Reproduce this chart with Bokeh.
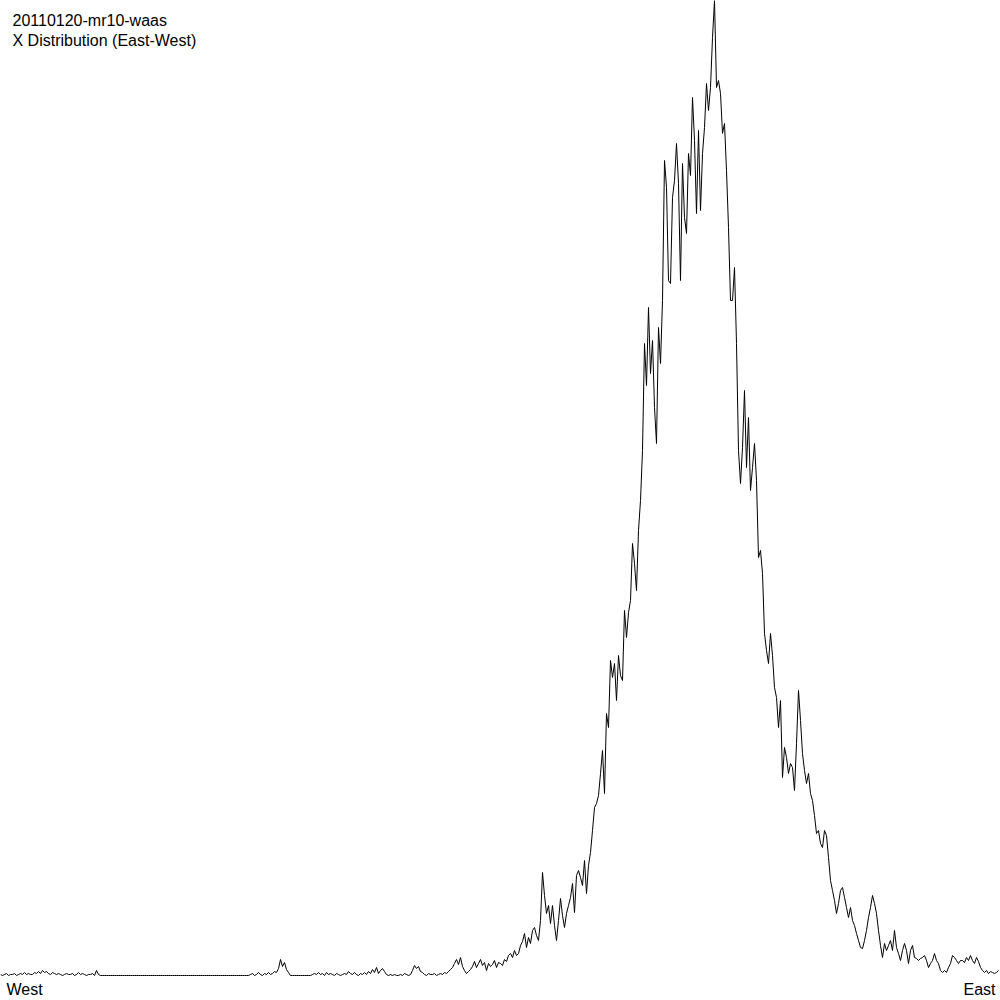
import numpy as np
from bokeh.plotting import figure
from bokeh.models import Range1d, Label, ColumnDataSource
from bokeh.embed import file_html
from bokeh.resources import INLINE

# Histogram of X positions (counts per bin), West -> East
counts = (
    [1,0,1,2,0,1,1,2,0,1, 2,1,3,1,2,1,1,3,2,4, 2,5,3,4,2,1,3,2,1,2,
     1,0,1,2,1,1,2,0,1,3, 1,2,1,0,1,1,2,0,5,1]
    + [0] * 75
    + [1,2,0,1,3,1,0,2,1,3, 1,2,4,3,7,16,9,13,6,3]
    + [0] * 11
    + [1,2,1,3,1,2,0,3,1,2]
    + [1,0,2,1,0,1,2,1,4,2]
    + [1,3,1,0,2,1,3,1,4,2]
    + [6,3,8,2,5,7,4,1,0,1]
    + [0,1,0,0,1,0,2,1,0,1]
    + [5,10,7,9,4,3,1,0,2,1]
    + [1,2,0,1,2,1,3,2,4,6]
    + [8,12,16,11,18,9,5,2,4,6]
    + [9,14,8,12,16,10,13,5,12,9]
    + [11,15,8,13,12,10,16,14,20,22]
    + [18,25,20,22,30,34,42,28,38,32]
    + [45,48,40,35,55,103,80,62,70,52]
    + [70,50,35,55,77,60,48,62,70,78]
    + [92,63,100,105,98,90,115,82,110,123]
    + [145,168,172,180,202,225,182,262,248,315]
    + [298,312,275,320,300,295,365,338,363,375]
    + [432,412,385,445,475,525,632,590,668,602]
    + [635,568,532,648,612,675,815,788,695,692]
    + [778,795,832,792,695,812,758,742,822,800]
    + [878,835,762,845,765,822,848,892,865,888]
    + [938,975,888,895,882,842,852,805,748,675]
    + [675,708,632,525,492,528,585,508,558,485]
    + [508,532,495,418,425,402,342,325,312,342]
    + [320,288,278,248,275,198,228,218,202,212]
    + [208,185,232,285,255,222,205,192,202,182]
    + [175,160,142,145,132,128,145,140,118,95]
    + [85,75,62,72,85,88,78,68,58,68]
    + [55,50,42,35,28,27,35,45,58,68]
    + [80,72,62,45,30,18,32,25,30,35]
    + [25,45,28,22,15,25,32,25,12,25]
    + [30,18,17,15,17,18,20,15,8,12]
    + [15,22,15,12,5,3,5,3,8,12]
    + [20,18,15,12,15,15,13,18,15,20]
    + [15,12,18,14,8,5,3,5,2,4]
    + [3,2,3,5]
)
bins = list(range(len(counts)))

title_lines = ["20110120-mr10-waas", "X Distribution (East-West)"]
left_label = "West"
right_label = "East"

W = H = 1000
p = figure(width=W, height=H, output_backend="svg", toolbar_location=None,
           x_range=Range1d(0, 500), y_range=Range1d(-25, 975),
           min_border=0, min_border_left=0, min_border_right=0,
           min_border_top=0, min_border_bottom=0)
p.axis.visible = False
p.xgrid.visible = False
p.ygrid.visible = False
p.outline_line_color = None
p.background_fill_color = "white"
p.border_fill_color = "white"

src = ColumnDataSource(dict(x=bins, y=counts))
p.line("x", "y", source=src, line_color="black", line_width=1)

font = "Liberation Sans"
p.add_layout(Label(x=12, y=980, x_units="screen", y_units="screen",
                   text=title_lines[0], text_font=font, text_font_size="16px",
                   text_color="black", text_baseline="alphabetic"))
p.add_layout(Label(x=12, y=960, x_units="screen", y_units="screen",
                   text=title_lines[1], text_font=font, text_font_size="16px",
                   text_color="black", text_baseline="alphabetic"))
p.add_layout(Label(x=6, y=11, x_units="screen", y_units="screen",
                   text=left_label, text_font=font, text_font_size="16px",
                   text_color="black", text_baseline="alphabetic"))
p.add_layout(Label(x=995, y=11, x_units="screen", y_units="screen",
                   text=right_label, text_font=font, text_font_size="16px",
                   text_color="black", text_baseline="alphabetic",
                   text_align="right"))

open("out.html", "w").write(file_html(p, INLINE))
